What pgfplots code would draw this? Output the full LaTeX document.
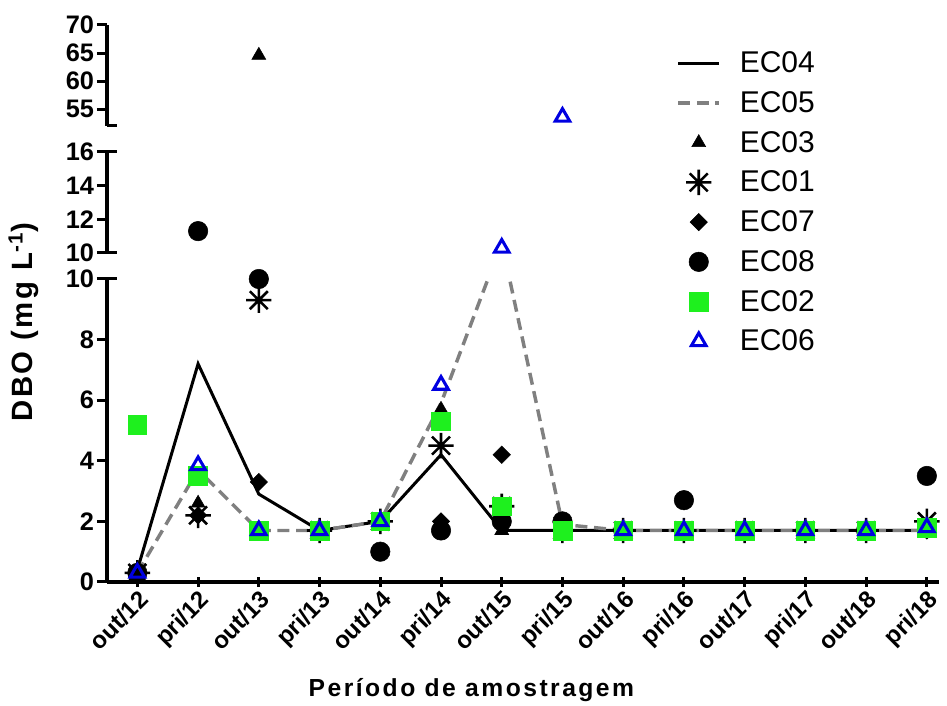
\documentclass[border=0pt]{standalone}
\usepackage{fontspec}
\setmainfont{Liberation Sans}
\usepackage{pgfplots}
\usepackage{pgfplotstable}
\pgfplotsset{compat=1.18}
\definecolor{ecgreen}{RGB}{30,240,30}
\definecolor{ecblue}{RGB}{0,0,225}
\definecolor{ecgray}{RGB}{128,128,128}
\pgfdeclareplotmark{ast8}{%
 \pgfpathmoveto{\pgfqpoint{0pt}{\pgfplotmarksize}}\pgfpathlineto{\pgfqpoint{0pt}{-\pgfplotmarksize}}%
 \pgfpathmoveto{\pgfqpoint{\pgfplotmarksize}{0pt}}\pgfpathlineto{\pgfqpoint{-\pgfplotmarksize}{0pt}}%
 \pgfpathmoveto{\pgfqpoint{.7071\pgfplotmarksize}{.7071\pgfplotmarksize}}\pgfpathlineto{\pgfqpoint{-.7071\pgfplotmarksize}{-.7071\pgfplotmarksize}}%
 \pgfpathmoveto{\pgfqpoint{.7071\pgfplotmarksize}{-.7071\pgfplotmarksize}}\pgfpathlineto{\pgfqpoint{-.7071\pgfplotmarksize}{.7071\pgfplotmarksize}}%
 \pgfusepathqstroke}

\pgfplotstableread{
x EC04 EC05 EC03 EC01 EC07 EC08 EC02 EC06
0 0.4 0.3 0.3 0.3 0.3 0.3 5.2 0.3
1 7.2 3.7 2.6 2.2 2.2 nan 3.5 3.85
2 2.9 1.7 nan 9.3 3.3 10.0 1.7 1.7
3 1.7 1.7 1.7 1.7 1.7 1.7 1.7 1.7
4 2.0 2.0 2.0 2.0 2.0 1.0 2.0 2.0
5 4.2 5.9 5.7 4.5 2.0 1.7 5.3 6.5
6 1.7 11.2 1.7 2.5 4.2 2.0 2.5 nan
7 1.7 1.9 1.7 1.7 1.7 2.0 1.7 nan
8 1.7 1.7 1.7 1.7 1.7 1.7 1.7 1.7
9 1.7 1.7 1.7 1.7 1.7 2.7 1.7 1.7
10 1.7 1.7 1.7 1.7 1.7 1.7 1.7 1.7
11 1.7 1.7 1.7 1.7 1.7 1.7 1.7 1.7
12 1.7 1.7 1.7 1.7 1.7 1.7 1.7 1.7
13 1.7 1.7 1.7 2.0 1.7 3.5 1.8 1.8
}\lowdata

\pgfplotsset{
  brk/.style={
    width=624pt, scale only axis,
    xmin=-0.5, xmax=13.2,
    axis y line=left,
    axis line style={line width=2.5pt,-},
    every tick/.style={line width=2.25pt,black},
    major tick length=7.5pt,
    tick align=outside,
    clip marker paths=false,
    /pgf/number format/assume math mode=true,
    yticklabel style={font=\bfseries\fontsize{19}{19}\selectfont, inner sep=2pt},
    ytick pos=left,
  },
  s03/.style={only marks, mark=triangle*, mark size=6pt, black},
  s01/.style={only marks, mark=ast8, mark size=9.5pt, black, mark options={line width=1.9pt}},
  s07/.style={only marks, mark=square*, mark size=4.6pt, black, mark options={rotate=45}},
  s08/.style={only marks, mark=*, mark size=7.3pt, black},
  s02/.style={only marks, mark=square*, mark size=7pt, ecgreen},
  s06/.style={only marks, mark=triangle, mark size=6.3pt, ecblue, mark options={fill=white, line width=2.3pt}},
  mklegend/.style={legend image code/.code={\draw[##1] plot coordinates {(15.5pt,0pt)};}},
  lnlegend/.style={legend image code/.code={\draw[##1] (0pt,0pt) -- (31pt,0pt);}},
}

\begin{document}
\begin{tikzpicture}
\useasboundingbox (-80.25pt,-93pt) rectangle (630pt,436.5pt);
% bottom segment 0-10
\begin{axis}[brk,
  at={(0pt,0pt)}, anchor=south west,
  height=227.25pt,
  ymin=0, ymax=10,
  axis x line=bottom,
  axis line style={line width=2.5pt,-},
  x axis line style={-},
  ytick={0,2,4,6,8},
  extra y ticks={10},
  extra y tick style={major tick length=15pt, tick align=center},
  xtick={0,...,13},
  xticklabels={out/12,pri/12,out/13,pri/13,out/14,pri/14,out/15,pri/15,out/16,pri/16,out/17,pri/17,out/18,pri/18},
  xticklabel style={font=\bfseries\fontsize{18}{18}\selectfont, rotate=45, anchor=north east, inner sep=1pt},
  xtick pos=bottom,
  xlabel={Período de amostragem},
  xlabel style={font=\bfseries\fontsize{18.5}{18.5}\selectfont\addfontfeature{LetterSpace=10}, at={(axis description cs:0.438,-0.356)}, anchor=center},
  ylabel={DBO (mg L\textsuperscript{-1})},
  ylabel style={font=\bfseries\fontsize{22}{22}\selectfont\addfontfeature{LetterSpace=9}, at={(axis description cs:-0.100,0.858)}, anchor=center},
  legend style={draw=none, fill=none, at={(rel axis cs:0.684,1.76)}, anchor=north west,
    font=\fontsize{22.5}{22.5}\selectfont, row sep=8.6pt, column sep=12pt, inner sep=0pt},
  legend cell align=left,
]
\addplot[black, line width=2.25pt, no marks, lnlegend] table[x=x, y=EC04] {\lowdata};
\addlegendentry{EC04}
\addplot[ecgray, line width=2.6pt, dash pattern=on 9pt off 5pt, no marks, lnlegend] table[x=x, y=EC05] {\lowdata};
\addlegendentry{EC05}
\addplot[s03, mklegend] table[x=x, y=EC03] {\lowdata};
\addlegendentry{EC03}
\addplot[s01, mklegend] table[x=x, y=EC01] {\lowdata};
\addlegendentry{EC01}
\addplot[s07, mklegend] table[x=x, y=EC07] {\lowdata};
\addlegendentry{EC07}
\addplot[s08, mklegend] table[x=x, y=EC08] {\lowdata};
\addlegendentry{EC08}
\addplot[s02, mklegend] table[x=x, y=EC02] {\lowdata};
\addlegendentry{EC02}
\addplot[s06, mklegend] table[x=x, y=EC06] {\lowdata};
\addlegendentry{EC06}
\end{axis}
% middle segment 10-16
\begin{axis}[brk,
  at={(0pt,246.75pt)}, anchor=south west,
  height=75.75pt,
  ymin=10, ymax=16,
  axis x line=none,
  ytick={12,14},
  extra y ticks={10,16},
  extra y tick style={major tick length=15pt, tick align=center},
]
\addplot[s08] coordinates {(1,11.3)};
\addplot[s06] coordinates {(6,10.3)};
\end{axis}
% top segment 52-70
\begin{axis}[brk,
  at={(0pt,342pt)}, anchor=south west,
  height=75.75pt,
  ymin=52, ymax=70,
  axis x line=none,
  ytick={55,60,65,70},
  extra y ticks={52},
  extra y tick labels={},
  extra y tick style={tick align=inside},
]
\addplot[s03] coordinates {(2,64.6)};
\addplot[s06] coordinates {(7,53.6)};
\end{axis}
\end{tikzpicture}
\end{document}
